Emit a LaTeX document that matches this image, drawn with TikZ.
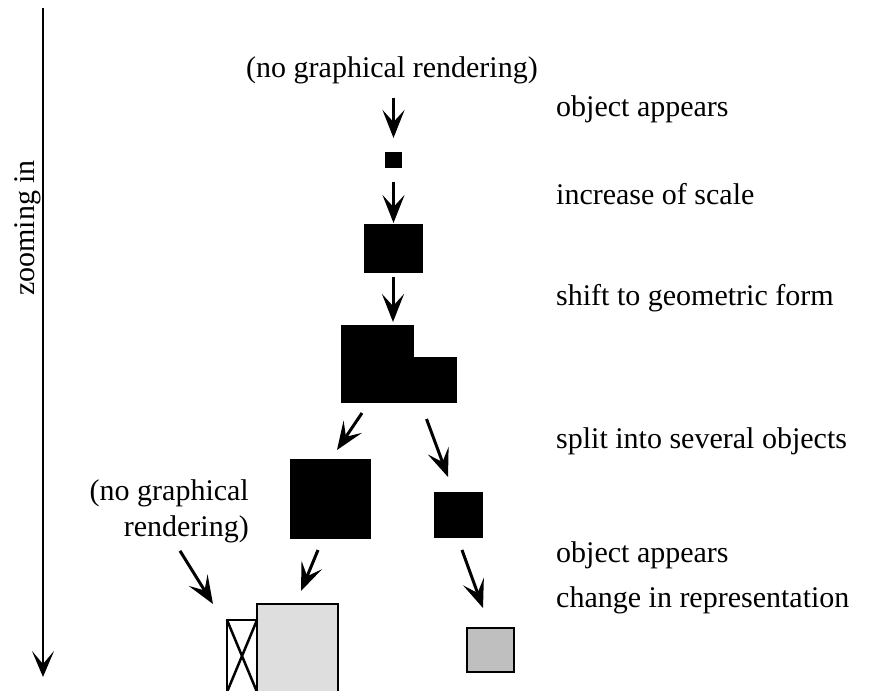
\documentclass[tikz,border=0pt]{standalone}
\usepackage{fontspec}
\setmainfont{Liberation Serif}
\usepackage{xcolor}
\usepackage{tikz}
\usetikzlibrary{
  arrows.meta,
  positioning
}

\begin{document}
\begin{tikzpicture}[
  x=1pt, y=-1pt,
  font=\fontsize{30}{36}\selectfont,
  solid-box/.style={fill=black, draw=none, inner sep=0pt, outer sep=0pt},
  outline-box/.style={draw=black, line width=2.5pt, inner sep=0pt, outer sep=0pt},
  zoom-arrow/.style={line width=3pt, -{Stealth[length=28pt 0 0, width=22pt 0 0, inset=12pt 0]}},
  step-label/.style={anchor=base west, inner sep=0pt}
]
\useasboundingbox (0,0) rectangle (869,690);

\coordinate (axis-top) at (43,8);
\coordinate (axis-bottom) at (43,677);
\draw[line width=2.5pt, -{Stealth[length=26pt 0 0, width=22pt 0 0, inset=13pt 0]}] (axis-top) -- (axis-bottom);
\node[rotate=90, anchor=south, inner sep=2pt] (axis-label) at (43,228) {zooming in};

\node[anchor=base, inner sep=3pt] (no-rendering-top) at (392,78) {(no graphical rendering)};
\node[solid-box, minimum width=17pt, minimum height=16pt] (small-square) at (393.5,160) {};
\node[solid-box, minimum width=59pt, minimum height=49pt] (medium-square) at (393,248.5) {};
\node[solid-box, minimum width=73pt, minimum height=78pt] (form-left) at (377.5,364) {};
\node[solid-box, minimum width=44pt, minimum height=46pt] (form-right) at (435,380) {};
\node[solid-box, minimum width=81pt, minimum height=80pt] (split-left) at (330.5,499) {};
\node[solid-box, minimum width=49pt, minimum height=46pt] (split-right) at (458.5,515) {};
\node[outline-box, fill=black!13, minimum width=81pt, minimum height=88pt] (changed-box) at (297.5,648) {};
\node[outline-box, fill=white, minimum width=30pt, minimum height=72pt] (new-box) at (242,656) {};
\draw[line width=2.5pt] (new-box.north west) -- (new-box.south east)
  (new-box.north east) -- (new-box.south west);
\node[outline-box, fill=black!25, minimum width=47pt, minimum height=44pt] (grey-square) at (490.5,650) {};

\node[align=right, anchor=east, inner sep=3pt] (no-rendering-left) at (252,511) {(no graphical\\rendering)};

\draw[zoom-arrow] ([yshift=-10pt]small-square.north |- no-rendering-top.south) -- ([yshift=14pt]small-square.north);
\draw[zoom-arrow] ([yshift=-14pt]small-square.south) -- ([yshift=1pt]small-square.south |- medium-square.north);
\draw[zoom-arrow] ([yshift=-4pt]medium-square.south) -- ([yshift=3pt]medium-square.south |- form-left.north);
\draw[zoom-arrow] ([xshift=-15.5pt, yshift=-10pt]form-left.south) -- ([xshift=6.5pt, yshift=9pt]split-left.north);
\draw[zoom-arrow] ([xshift=-8.5pt, yshift=-16pt]form-right.south) -- ([xshift=-10.5pt, yshift=15pt]split-right.north);
\draw[zoom-arrow] ([xshift=-12.5pt, yshift=-11pt]split-left.south) -- ([xshift=3.5pt, yshift=13pt]changed-box.north);
\draw[zoom-arrow] ([xshift=3.5pt, yshift=-12pt]split-right.south) -- ([xshift=-7.5pt, yshift=20pt]grey-square.north);
\draw[zoom-arrow] ([xshift=-72pt, yshift=-5pt]no-rendering-left.south east) -- ([xshift=-14pt, yshift=16pt]new-box.north west);

\node[step-label] (appears-top) at (556,117) {object appears};
\node[step-label] (scale-up) at (556,204) {increase of scale};
\node[step-label] (geometric) at (556,305) {shift to geometric form};
\node[step-label] (split) at (556,448) {split into several objects};
\node[step-label] (appears-bottom) at (556,562) {object appears};
\node[step-label] (representation) at (556,607) {change in representation};
\end{tikzpicture}
\end{document}
